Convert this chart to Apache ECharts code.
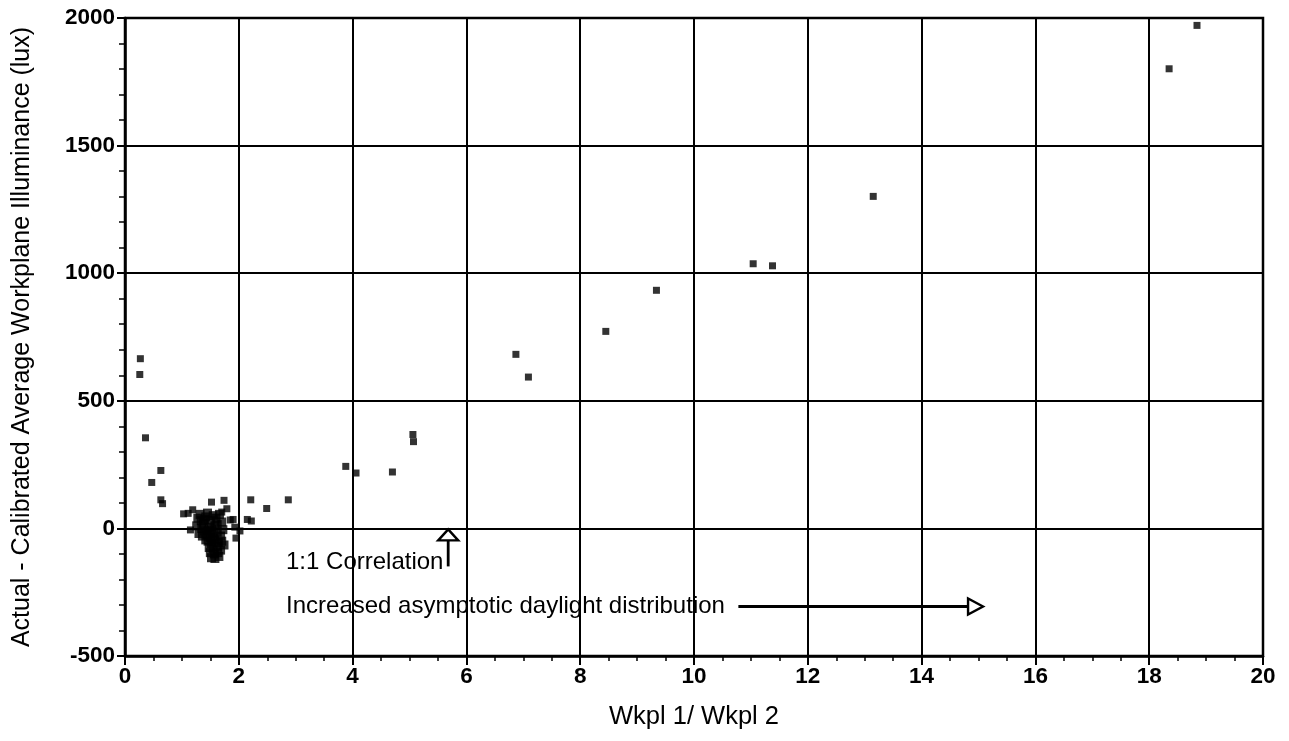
<!DOCTYPE html>
<html>
<head>
<meta charset="utf-8">
<script src="https://cdn.jsdelivr.net/npm/echarts@6/dist/echarts.min.js"></script>
<style>html,body{margin:0;padding:0;background:#fff}#c{width:1289px;height:741px}</style>
</head>
<body>
<div id="c"></div>
<script>
// Data: [Wkpl1/Wkpl2, Actual - Calibrated (lux)]
const outerPoints = [
  [0.27,665],[0.26,603],[0.36,355],[0.47,180],[0.63,227],[0.63,112],[0.66,97],
  [1.03,57],[1.11,59],[1.19,73],[1.15,-6],[1.52,103],[1.74,110],[1.79,77],[1.70,64],
  [1.85,33],[1.90,35],[1.93,5],[2.02,-10],[1.95,-38],[2.15,35],[2.22,29],[2.21,112],
  [2.49,78],[2.87,112],[3.88,243],[4.06,217],[4.70,221],[5.06,368],[5.07,340],
  [6.87,682],[7.09,593],[8.45,772],[9.34,933],[11.04,1037],[11.38,1029],[13.15,1301],
  [18.35,1801],[18.84,1971]
];
const clusterPoints = [
  [1.28,40],[1.32,55],[1.38,20],[1.42,45],[1.45,60],[1.50,30],[1.55,50],[1.60,40],
  [1.62,15],[1.66,55],[1.70,25],[1.35,0],[1.40,-10],[1.48,5],[1.52,-5],[1.58,10],
  [1.30,-20],[1.36,-30],[1.44,-25],[1.50,-35],[1.56,-20],[1.62,-15],[1.68,-30],[1.72,-5],
  [1.26,10],[1.34,30],[1.46,-50],[1.52,-60],[1.58,-45],[1.64,-55],[1.70,-50],[1.48,-75],
  [1.55,-80],[1.62,-70],[1.68,-85],[1.50,-95],[1.57,-100],[1.63,-95],[1.52,-115],
  [1.58,-118],[1.65,-110],[1.42,-45],[1.74,-65],[1.40,35],[1.46,-10],[1.54,-40]
];
const xTicks = { min: 0, max: 20, interval: 2 };
const yTicks = { min: -500, max: 2000, interval: 500 };
const xTitle = 'Wkpl 1/ Wkpl 2';
const yTitle = 'Actual - Calibrated Average Workplane Illuminance (lux)';
const correlationLabel = '1:1 Correlation';
const correlationAt = [5.68, 0];
const correlationTextAt = [2.83, -133];
const distributionLabel = 'Increased asymptotic daylight distribution';
const distributionTextAt = [2.83, -306];
const distributionArrow = [[10.78, -306], [15.08, -306]];

const FONT = '"Liberation Sans", Arial, Helvetica, sans-serif';
const chart = echarts.init(document.getElementById('c'));

function renderAnnotations(params, api) {
  const up = api.coord(correlationAt);
  const t1 = api.coord(correlationTextAt);
  const t2 = api.coord(distributionTextAt);
  const a0 = api.coord(distributionArrow[0]);
  const a1 = api.coord(distributionArrow[1]);
  const st = { stroke: '#000', lineWidth: 2.4, fill: '#fff' };
  const font = '24px ' + FONT;
  return {
    type: 'group',
    children: [
      { type: 'line', shape: { x1: up[0], y1: up[1] + 11, x2: up[0], y2: up[1] + 38 }, style: { stroke: '#000', lineWidth: 2.8 } },
      { type: 'polygon', shape: { points: [[up[0], up[1] + 1], [up[0] - 10, up[1] + 12], [up[0] + 10, up[1] + 12]] }, style: st },
      { type: 'text', x: t1[0], y: t1[1], style: { text: correlationLabel, font: font, fill: '#000', align: 'left', verticalAlign: 'middle' } },
      { type: 'text', x: t2[0], y: t2[1], style: { text: distributionLabel, font: font, fill: '#000', align: 'left', verticalAlign: 'middle' } },
      { type: 'line', shape: { x1: a0[0], y1: a0[1], x2: a1[0] - 15, y2: a1[1] }, style: { stroke: '#000', lineWidth: 2.8 } },
      { type: 'polygon', shape: { points: [[a1[0], a1[1]], [a1[0] - 15, a1[1] - 8], [a1[0] - 15, a1[1] + 8]] }, style: st }
    ]
  };
}

chart.setOption({
  animation: false,
  backgroundColor: '#fff',
  grid: { left: 125, right: 26, top: 18, bottom: 85, show: true, borderColor: '#000', borderWidth: 2.5, backgroundColor: 'transparent' },
  xAxis: {
    type: 'value', min: xTicks.min, max: xTicks.max, interval: xTicks.interval,
    name: xTitle, nameLocation: 'middle', nameGap: 48,
    nameTextStyle: { fontFamily: FONT, fontSize: 25.5, color: '#000' },
    axisLine: { show: true, onZero: false, lineStyle: { color: '#000', width: 2.5 } },
    axisTick: { show: true, inside: false, length: 9, lineStyle: { color: '#000', width: 2 } },
    minorTick: { show: true, splitNumber: 4, length: 5, lineStyle: { color: '#000', width: 1.5 } },
    axisLabel: { margin: 9, fontFamily: FONT, fontSize: 22.5, fontWeight: 'bold', color: '#000', formatter: v => String(v) },
    splitLine: { show: true, lineStyle: { color: '#000', width: 2 } }
  },
  yAxis: {
    type: 'value', min: yTicks.min, max: yTicks.max, interval: yTicks.interval,
    name: yTitle, nameLocation: 'middle', nameGap: 90, nameRotate: 90,
    nameTextStyle: { fontFamily: FONT, fontSize: 25, color: '#000' },
    axisLine: { show: true, onZero: false, lineStyle: { color: '#000', width: 2.5 } },
    axisTick: { show: true, inside: false, length: 8, lineStyle: { color: '#000', width: 2 } },
    minorTick: { show: true, splitNumber: 5, length: 6, lineStyle: { color: '#000', width: 1.5 } },
    axisLabel: { margin: 10, fontFamily: FONT, fontSize: 22.5, fontWeight: 'bold', color: '#000', formatter: v => String(v) },
    splitLine: { show: true, lineStyle: { color: '#000', width: 2 } }
  },
  series: [
    { type: 'scatter', data: outerPoints, symbol: 'rect', symbolSize: 7, itemStyle: { color: '#000' }, z: 5 },
    { type: 'scatter', data: clusterPoints, symbol: 'rect', symbolSize: 9, itemStyle: { color: '#000' }, z: 5 },
    { type: 'custom', data: [0], renderItem: renderAnnotations, silent: true, z: 6 }
  ]
});
</script>
</body>
</html>
